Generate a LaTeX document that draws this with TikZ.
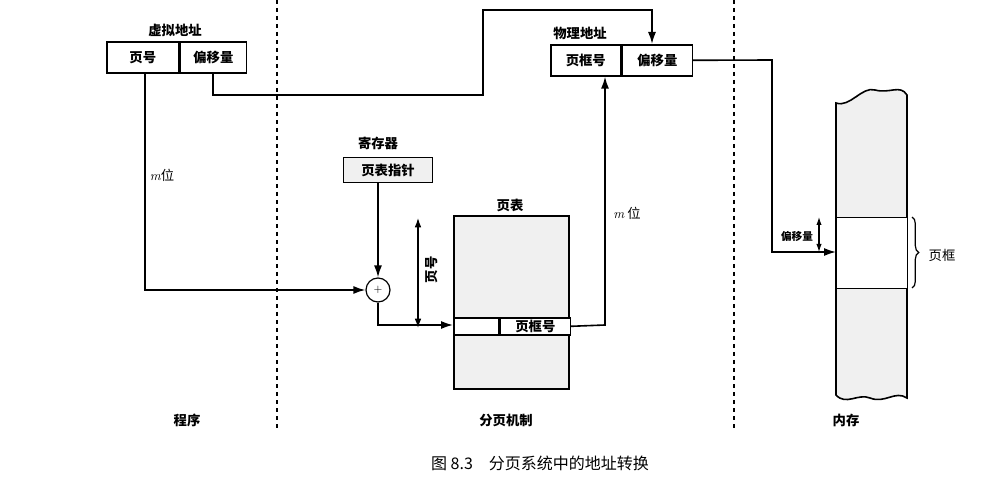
\documentclass[tikz,border=0pt]{standalone}
\usepackage{fontspec}
\setmainfont{Noto Sans CJK SC}
\newfontfamily\lmit{Latin Modern Roman}
\usetikzlibrary{arrows.meta,decorations.pathreplacing}
\begin{document}
\begin{tikzpicture}[x=0.75pt,y=-0.75pt,line width=1.2pt,
  arr/.style={-{Latex[length=9pt,width=6pt]}},
  cell/.style={draw,minimum height=23.25pt,inner sep=0pt,font=\bfseries},
  shade/.style={fill=gray!12},
  lbl/.style={font=\bfseries}]
\useasboundingbox (0,0) rectangle (998,498);
% dashed separators
\draw[dashed,line width=1.1pt] (277,0) -- (277,430);
\draw[dashed,line width=1.1pt] (734,0) -- (734,430);
% virtual address
\node[lbl] (va) at (175,30) {虚拟地址};
\node[cell,minimum width=54pt,anchor=north west] (vpn) at (106,41) {页号};
\node[cell,minimum width=49.5pt,anchor=west] (voff) at (vpn.east) {偏移量};
% physical address
\node[lbl] (pa) at (580,33) {物理地址};
\node[cell,minimum width=52.5pt,anchor=north west] (pfn) at (550,44) {页框号};
\node[cell,minimum width=52.5pt,anchor=west] (poff) at (pfn.east) {偏移量};
% register
\node[lbl] (reg) at (378,143) {寄存器};
\node[cell,shade,minimum width=66.75pt,minimum height=18.75pt] (ptr) at (388,170) {页表指针};
% adder
\node[draw,circle,minimum size=18pt,inner sep=0pt,line width=0.9pt] (plus) at (378,290) {\footnotesize$+$};
% page table
\node[lbl] (ptl) at (510,205) {页表};
\node[draw,shade,minimum width=86.25pt,minimum height=129.75pt,anchor=north west,inner sep=0pt] (pt) at (453,215) {};
\node[draw,fill=white,minimum width=33.75pt,minimum height=12.75pt,anchor=north west,inner sep=0pt] (blank) at (453,317) {};
\node[draw,fill=white,minimum width=52.5pt,minimum height=12.75pt,anchor=west,inner sep=0pt,font=\bfseries] (ptf) at (blank.east) {页框号};
% connectors
\coordinate (c1) at (213,95); \coordinate (c2) at (483,95); \coordinate (c3) at (483,10); \coordinate (c4) at (652,10);
\draw[arr] (voff.south -| 213,0) -- (c1) -- (c2) -- (c3) -- (c4) -- (poff.north -| 652,0);
\draw[arr] (vpn.south -| 145,0) -- (145,290) -- (plus.west);
\node (m1) at (162,175) {{\lmit\itshape m}位};
\draw[arr] (ptr.south -| 378,0) -- (plus.north);
\coordinate (c5) at (378,325);
\draw[arr] (plus.south) -- (c5) -- (blank.west |- c5);
\draw[{Latex[length=7pt,width=5pt]}-{Latex[length=7pt,width=5pt]},line width=0.9pt] (418,218) -- (418,328);
\node[rotate=90,lbl] (pnl) at (432,270) {页号};
\draw[arr] (ptf.east) -- (605,325) -- (605,80 |- pfn.south);
\node (m2) at (627,213) {{\lmit\itshape m} 位};
% memory
\path[draw,shade] (836,103) .. controls (850,108) and (862,86) .. (875,90) .. controls (890,94) and (900,84) .. (907,95)
  -- (907,398) .. controls (895,390) and (885,404) .. (870,398) .. controls (858,393) and (846,406) .. (836,395) -- cycle;
\node[draw,fill=white,minimum width=53.25pt,minimum height=53.25pt,anchor=north west,inner sep=0pt,line width=0.9pt] (frame) at (836,217) {};
\draw[decorate,decoration={brace,amplitude=5pt},line width=0.9pt] (912,217) -- (912,288);
\node (fl) at (942,255) {页框};
\draw[arr] (poff.east) -- (772,60) -- (772,252) -- (frame.west |- 0,252);
\draw[{Latex[length=6pt,width=4pt]}-{Latex[length=6pt,width=4pt]},line width=0.8pt] (819,217) -- (819,252);
\node[font=\bfseries\footnotesize] (offl) at (797,236) {偏移量};
% bottom labels
\node[lbl] (l1) at (187,420) {程序};
\node[lbl] (l2) at (506,420) {分页机制};
\node[lbl] (l3) at (846,420) {内存};
\node[font=\large] (cap) at (540,463) {图 8.3\quad 分页系统中的地址转换};
\end{tikzpicture}
\end{document}
